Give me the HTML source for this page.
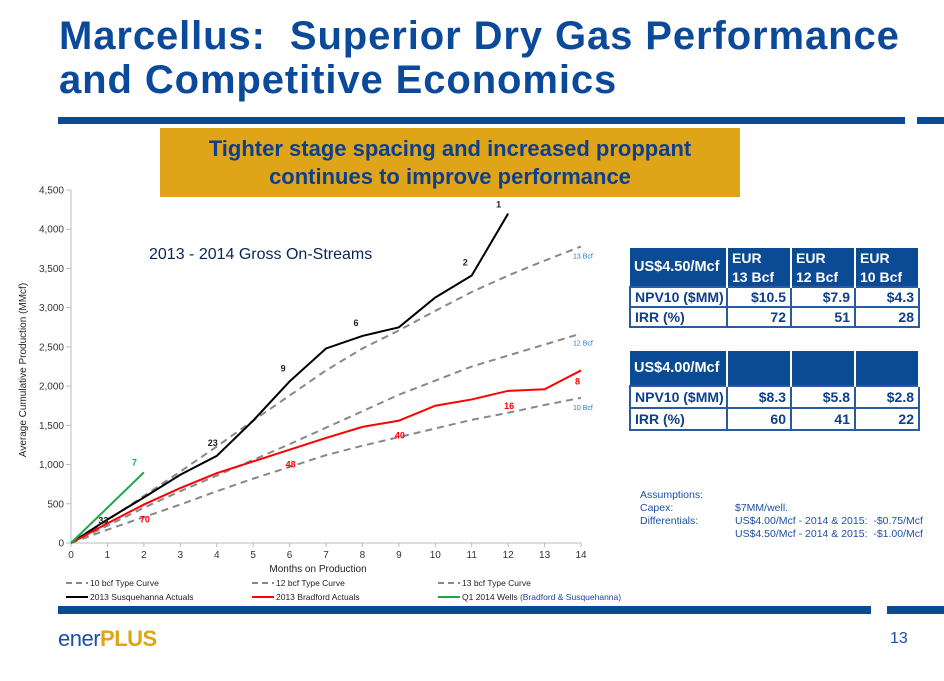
<!DOCTYPE html>
<html><head><meta charset="utf-8"><style>
body{margin:0;width:944px;height:681px;background:#fff;position:relative;overflow:hidden;font-family:"Liberation Sans",sans-serif}
.abs{position:absolute}
h1{position:absolute;left:59px;top:14px;margin:0;font-size:40px;line-height:44px;color:#0b4a9a;font-weight:bold;letter-spacing:0.9px;white-space:nowrap}
table{position:absolute;border-collapse:collapse;font-weight:bold;font-size:14px;color:#0d3f8c;table-layout:fixed}
td{border:2px solid #2a5aa0;padding:0 4px;height:18px;white-space:nowrap;overflow:hidden}
td.h{background:#0b4a94;color:#fff;border-color:#fff;border-width:0 2px 0 0}
td.r{text-align:right}
.asm{position:absolute;font-size:10.5px;color:#1d4fa5;line-height:13px}
</style></head><body>
<h1>Marcellus:&nbsp; Superior Dry Gas Performance<br>and Competitive Economics</h1>
<div class="abs" style="left:58px;top:117px;width:847px;height:7px;background:#0b4a94"></div>
<div class="abs" style="left:917px;top:117px;width:27px;height:7px;background:#0b4a94"></div>
<div class="abs" style="left:160px;top:128px;width:580px;height:69px;background:#e0a418;color:#0d3f8c;font-weight:bold;font-size:22px;line-height:28px;text-align:center;padding-top:7px;box-sizing:border-box">Tighter stage spacing and increased proppant<br>continues to improve performance</div>

<svg class="abs" style="left:0;top:180px" width="640" height="430">
<g id="g"></g></svg>

<table style="left:629px;top:248px;width:289px">
<colgroup><col style="width:97px"><col style="width:64px"><col style="width:64px"><col style="width:64px"></colgroup>
<tr><td class="h" rowspan="2" style="font-size:14.5px">US$4.50/Mcf</td><td class="h" style="height:19px">EUR</td><td class="h">EUR</td><td class="h">EUR</td></tr>
<tr><td class="h" style="height:19px">13 Bcf</td><td class="h">12 Bcf</td><td class="h">10 Bcf</td></tr>
<tr><td>NPV10 ($MM)</td><td class="r">$10.5</td><td class="r">$7.9</td><td class="r">$4.3</td></tr>
<tr><td>IRR (%)</td><td class="r">72</td><td class="r">51</td><td class="r">28</td></tr>
</table>
<table style="left:629px;top:351px;width:289px">
<colgroup><col style="width:97px"><col style="width:64px"><col style="width:64px"><col style="width:64px"></colgroup>
<tr><td class="h" style="height:34px;font-size:14.5px">US$4.00/Mcf</td><td class="h"></td><td class="h"></td><td class="h"></td></tr>
<tr><td style="height:20px">NPV10 ($MM)</td><td class="r">$8.3</td><td class="r">$5.8</td><td class="r">$2.8</td></tr>
<tr><td style="height:20px">IRR (%)</td><td class="r">60</td><td class="r">41</td><td class="r">22</td></tr>
</table>
<div class="asm" style="left:640px;top:489px">Assumptions:<br>Capex:<br>Differentials:</div>
<div class="asm" style="left:735px;top:502px">$7MM/well.<br>US$4.00/Mcf - 2014 &amp; 2015:&nbsp; -$0.75/Mcf<br>US$4.50/Mcf - 2014 &amp; 2015:&nbsp; -$1.00/Mcf</div>

<div class="abs" style="left:58px;top:606px;width:813px;height:8px;background:#0b4a94"></div>
<div class="abs" style="left:887px;top:606px;width:57px;height:8px;background:#0b4a94"></div>
<div class="abs" style="left:58px;top:626px;font-size:22px;font-weight:bold;letter-spacing:-0.5px"><span style="color:#1d4fa5;font-weight:normal">ener</span><span style="color:#e0a418">PLUS</span></div>
<div class="abs" style="left:890px;top:630px;font-size:16px;color:#1d4fa5">13</div>

<script>
const months=[0,1,2,3,4,5,6,7,8,9,10,11,12,13,14];
const yTicks=[0,500,1000,1500,2000,2500,3000,3500,4000,4500];
const tc10=[0,170,330,490,660,820,970,1120,1240,1350,1460,1570,1660,1760,1850];
const tc12=[0,220,450,660,860,1060,1260,1470,1680,1890,2070,2250,2390,2530,2670];
const tc13=[0,290,600,910,1230,1560,1880,2200,2480,2710,2960,3200,3410,3600,3780];
const susq=[0,300,580,870,1110,1560,2060,2480,2640,2750,3130,3410,4200];
const brad=[0,250,490,700,890,1040,1190,1340,1480,1560,1750,1830,1940,1960,2200];
const q1=[0,450,900];
const susqLabels=[[1,"33"],[4,"23"],[6,"9"],[8,"6"],[11,"2"],[12,"1"]];
const bradLabels=[[2,"70"],[6,"48"],[9,"40"],[12,"16"],[14,"8"]];
const ns="http://www.w3.org/2000/svg";
const g=document.getElementById('g');
const X=m=>71+m*36.43, Y=v=>363-v*0.07844;
function el(t,a,p){const e=document.createElementNS(ns,t);for(const k in a)e.setAttribute(k,a[k]);(p||g).appendChild(e);return e;}
function txt(x,y,s,a){const e=el('text',Object.assign({x:x,y:y,'font-family':'Liberation Sans, sans-serif'},a));e.textContent=s;return e;}
const ax=el('line',{x1:71,y1:Y(0),x2:X(14),y2:Y(0),stroke:'#bbb'});

const ay=el('line',{x1:71,y1:Y(0),x2:71,y2:Y(4500),stroke:'#bbb'});

yTicks.forEach(v=>{el('line',{x1:66,x2:71,y1:Y(v),y2:Y(v),stroke:'#bbb'});
const t=txt(64,Y(v)+3.5,v.toLocaleString('en-US'),{'font-size':10,'text-anchor':'end',fill:'#333'});
});
months.forEach(m=>{el('line',{x1:X(m),x2:X(m),y1:Y(0),y2:Y(0)+4,stroke:'#bbb'});
const t=txt(X(m),Y(0)+15,String(m),{'font-size':10,'text-anchor':'middle',fill:'#333'});
});
const xt=txt(318,392,'Months on Production',{'font-size':10,'text-anchor':'middle',fill:'#222'});

const yt=txt(0,0,'Average Cumulative Production (MMcf)',{'font-size':10,'text-anchor':'middle',fill:'#222',transform:'translate(26,190) rotate(-90)'});

const ct=txt(149,79,'2013 - 2014 Gross On-Streams',{'font-size':16,fill:'#0a2558'});

function line(arr,color,dash,name,w){const p=el('polyline',{points:arr.map((v,i)=>X(i)+','+Y(v)).join(' '),fill:'none',stroke:color,'stroke-width':w||2,'stroke-dasharray':dash||'none'});
}
line(tc10,'#888','7,5','type-curve-10bcf');line(tc12,'#888','7,5','type-curve-12bcf');line(tc13,'#888','7,5','type-curve-13bcf');
line(susq,'#000',null,'susquehanna-actuals-line');line(brad,'#f00',null,'bradford-actuals-line');line(q1,'#1aa84a',null,'q1-2014-wells-line');
[[tc13,'13 Bcf'],[tc12,'12 Bcf'],[tc10,'10 Bcf']].forEach(([a,s])=>{const t=txt(X(14)-8,Y(a[14])+12,s,{'font-size':7,fill:'#1d7fd0'});
});
susqLabels.forEach(([m,s])=>{const t=txt(X(m)-(m==12?12:9),Y(susq[m])-(m==1?-4:(m==12?6:10)),s,{'font-size':9,'font-weight':'bold',fill:'#222'});
});
bradLabels.forEach(([m,s])=>{const t=txt(X(m)-(m==14?6:4),Y(brad[m])+(m==14?14:18),s,{'font-size':9,'font-weight':'bold',fill:'#f00'});
});
const gl=txt(X(2)-12,Y(q1[2])-7,'7',{'font-size':9,'font-weight':'bold',fill:'#1aa84a'});

const leg=[[66,406,'#888','6,4','10 bcf Type Curve'],[252,406,'#888','6,4','12 bcf Type Curve'],[438,406,'#888','6,4','13 bcf Type Curve'],
[66,420,'#000',null,'2013 Susquehanna Actuals'],[252,420,'#f00',null,'2013 Bradford Actuals'],[438,420,'#1aa84a',null,'Q1 2014 Wells']];
leg.forEach(([x,y,c,d,s])=>{const lg=el('g',{});
el('line',{x1:x,x2:x+22,y1:y-3,y2:y-3,stroke:c,'stroke-width':2,'stroke-dasharray':d||'none'},lg);
const t=el('text',{x:x+24,y:y,'font-size':8.5,fill:'#222','font-family':'Liberation Sans, sans-serif'},lg);t.textContent=s;
if(s=='Q1 2014 Wells'){const sp=el('tspan',{fill:'#1d3fa5'},t);sp.textContent=' (Bradford & Susquehanna)';}});
</script>
</body></html>
